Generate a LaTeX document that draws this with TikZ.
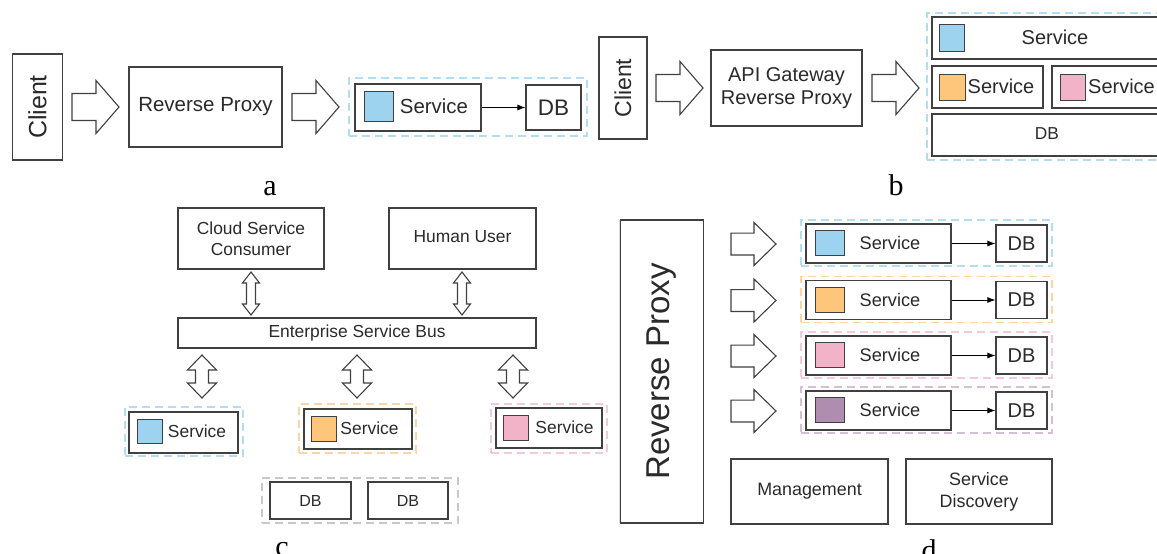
\documentclass[tikz,border=0pt]{standalone}
\usepackage{fontspec}
\setmainfont{Liberation Sans}
\newfontfamily\labelserif{Liberation Serif}
\usetikzlibrary{arrows.meta}
\definecolor{edge}{HTML}{404040}
\definecolor{txt}{HTML}{2A2A2A}
\definecolor{fblue}{HTML}{9DD3EF}
\definecolor{dblue}{HTML}{B3DDF2}
\definecolor{forange}{HTML}{FDC67A}
\definecolor{dorange}{HTML}{FCD5A5}
\definecolor{fpink}{HTML}{F2B3C9}
\definecolor{dpink}{HTML}{F6C9D9}
\definecolor{fpurp}{HTML}{AE8DAE}
\definecolor{dpurp}{HTML}{D6BFD6}
\definecolor{dgray}{HTML}{C8C8C8}
\definecolor{faint}{HTML}{D8D8D8}
\tikzset{
  box/.style={draw=edge, line width=1.1pt, fill=white, inner sep=0pt, text=txt, align=center},
  sq/.style={draw=edge, line width=1pt, inner sep=0pt, fill=#1},
  dbox/.style={draw=#1, dash pattern=on 8pt off 5pt, line width=1.3pt, inner sep=0pt},
  fs/.style 2 args={font=\fontsize{#1}{#2}\selectfont},
  lbl/.style={inner sep=0pt, text=txt},
  sublbl/.style={inner sep=0pt, anchor=base, font=\labelserif\fontsize{30}{30}\selectfont},
  conn/.style={draw=black, line width=0.9pt, -{Latex[length=8pt,width=6pt]}},
  arrowst/.style={draw=edge, line width=1.1pt, fill=white, line join=miter},
  barrow/.pic={\draw[arrowst] (0,-13.5) -- (24,-13.5) -- (24,-26.5) -- (47,0) -- (24,26.5) -- (24,13.5) -- (0,13.5) -- cycle;},
  dbthin/.pic={\draw[arrowst] (0,-21.5) -- (8.5,-10.5) -- (4.5,-10.5) -- (4.5,10.5) -- (8.5,10.5) -- (0,21.5) -- (-8.5,10.5) -- (-4.5,10.5) -- (-4.5,-10.5) -- (-8.5,-10.5) -- cycle;},
  dbthick/.pic={\draw[arrowst] (0,-21.5) -- (14.5,-6.5) -- (6.5,-6.5) -- (6.5,6.5) -- (14.5,6.5) -- (0,21.5) -- (-14.5,6.5) -- (-6.5,6.5) -- (-6.5,-6.5) -- (-14.5,-6.5) -- cycle;}
}
\begin{document}
\begin{tikzpicture}[x=1pt,y=-1pt]
\useasboundingbox (0,0) rectangle (1157,554);
\clip (0,0) rectangle (1157,554);

% ---------------- panel a ----------------
\node[box, rotate=90, minimum width=106, minimum height=50, fs={25}{30}] (clientA) at (37.5,107) {Client};
\pic at (72,107) {barrow};
\node[box, minimum width=153, minimum height=80, fs={20.5}{24}] (rpA) at (205.5,107) {Reverse Proxy};
\pic at (292,107) {barrow};
\node[dbox=dblue, minimum width=238, minimum height=58] (grpA) at (468,107) {};
\node[box, minimum width=126, minimum height=47] (svcA) at (418,107.5) {};
\node[sq=fblue, minimum width=29, minimum height=30] (sqA) at (378.5,106) {};
\node[lbl, fs={20.4}{24}] (svcAt) at (434,106) {Service};
\node[box, minimum width=55, minimum height=45, fs={22.5}{26}] (dbA) at (553.5,107.5) {DB};
\draw[conn] (svcA.east) -- (dbA.west);
\node[sublbl] (la) at (270,195) {a};

% ---------------- panel b ----------------
\node[box, rotate=90, minimum width=102, minimum height=48, fs={23}{28}] (clientB) at (623,88) {Client};
\pic at (656,88) {barrow};
\node[box, minimum width=151, minimum height=76, fs={20}{22.5}] (apiB) at (786.5,88) {API Gateway\\Reverse Proxy};
\pic at (872,88) {barrow};
\node[dbox=dblue, minimum width=240, minimum height=147] (grpB) at (1047,86.5) {};
\node[box, minimum width=238, minimum height=42] (svcB1) at (1051,38) {};
\node[sq=fblue, minimum width=25, minimum height=27] (sqB1) at (951.5,37.5) {};
\node[lbl, fs={20}{24}] (svcB1t) at (1055,37) {Service};
\node[box, minimum width=111, minimum height=42] (svcB2) at (987.5,87) {};
\node[sq=forange, minimum width=26, minimum height=26] (sqB2) at (952,87) {};
\node[lbl, fs={20}{24}] (svcB2t) at (1001,86) {Service};
\node[box, minimum width=118, minimum height=42] (svcB3) at (1111,87) {};
\node[sq=fpink, minimum width=25, minimum height=26] (sqB3) at (1072.5,87) {};
\node[lbl, fs={20}{24}] (svcB3t) at (1121.5,86) {Service};
\node[box, minimum width=238, minimum height=42] (dbB) at (1051,135) {};
\node[lbl, fs={17.3}{20}] (dbBt) at (1047,134) {DB};
\node[sublbl] (lb) at (896,195) {b};

% ---------------- panel c ----------------
\node[box, minimum width=146, minimum height=61, fs={17.4}{21}] (cloud) at (251,238.5) {Cloud Service\\Consumer};
\node[box, minimum width=147, minimum height=61] (human) at (462.5,238.5) {};
\node[lbl, fs={17.4}{21}] (humant) at (462.5,236.5) {Human User};
\pic at (251,293.5) {dbthin};
\pic at (462,293.5) {dbthin};
\node[box, minimum width=358, minimum height=30, fs={17.4}{21}] (esb) at (357,333) {Enterprise Service Bus};
\pic at (202,376.5) {dbthick};
\pic at (357,376.5) {dbthick};
\pic at (513,376.5) {dbthick};
% service 1
\node[dbox=dblue, minimum width=118, minimum height=49] (grpC1) at (184,431.5) {};
\node[box, minimum width=109, minimum height=41] (svcC1) at (183.5,432.5) {};
\node[sq=fblue, minimum width=25, minimum height=24] (sqC1) at (149.5,431) {};
\node[lbl, fs={17.4}{21}] (svcC1t) at (197,431) {Service};
% service 2
\node[dbox=dorange, minimum width=117, minimum height=49] (grpC2) at (357.5,428.5) {};
\node[box, minimum width=108, minimum height=40] (svcC2) at (358,429) {};
\node[sq=forange, minimum width=25, minimum height=25] (sqC2) at (323.5,428.5) {};
\node[lbl, fs={17.4}{21}] (svcC2t) at (369.5,428) {Service};
% service 3
\node[dbox=dpink, minimum width=116, minimum height=49] (grpC3) at (549,428.5) {};
\node[box, minimum width=106, minimum height=40] (svcC3) at (549,428) {};
\node[sq=fpink, minimum width=25, minimum height=25] (sqC3) at (515.5,427.5) {};
\node[lbl, fs={17.4}{21}] (svcC3t) at (564.5,427) {Service};
% DBs
\node[dbox=dgray, minimum width=196, minimum height=45] (grpDB) at (360,500.5) {};
\node[box, minimum width=81, minimum height=37, fs={16}{19}] (dbC1) at (310.5,500.5) {DB};
\node[box, minimum width=80, minimum height=37, fs={16}{19}] (dbC2) at (408,500.5) {DB};
\node[sublbl] (lc) at (282,556) {c};

% faint separator
\coordinate (sepT) at (619,220);
\coordinate (sepB) at (619,523);
\draw[faint, line width=1pt] (sepT) -- (sepB);

% ---------------- panel d ----------------
\node[box, rotate=90, minimum width=303, minimum height=83.5, fs={33}{38}] (rpD) at (662,371.5) {Reverse Proxy};
\foreach \yy/\ff/\dd [count=\i] in {243/fblue/dblue, 299.5/forange/dorange, 355/fpink/dpink, 410/fpurp/dpurp}{
  \pic[xscale=0.957, yscale=0.811] at (731,\yy+1) {barrow};
  \node[dbox=\dd, minimum width=251, minimum height=46] (grpD\i) at (926.5,\yy) {};
  \node[box, minimum width=145, minimum height=39] (svcD\i) at (878.5,\yy+0.5) {};
  \node[sq=\ff, minimum width=29, minimum height=25] (sqD\i) at (829.5,\yy) {};
  \node[lbl, fs={18.2}{22}] (svcDt\i) at (890,\yy) {Service};
  \node[box, minimum width=51, minimum height=37, fs={20}{24}] (dbD\i) at (1021.5,\yy+0.5) {DB};
  \draw[conn] (svcD\i.east) -- (dbD\i.west);
}
\node[box, minimum width=157, minimum height=65, fs={17.9}{22}] (mgmt) at (809.5,491.5) {Management};
\node[box, minimum width=146, minimum height=65, fs={17.9}{22}] (disc) at (979,491.5) {Service\\Discovery};
\node[sublbl] (ld) at (929,560) {d};
\end{tikzpicture}
\end{document}
